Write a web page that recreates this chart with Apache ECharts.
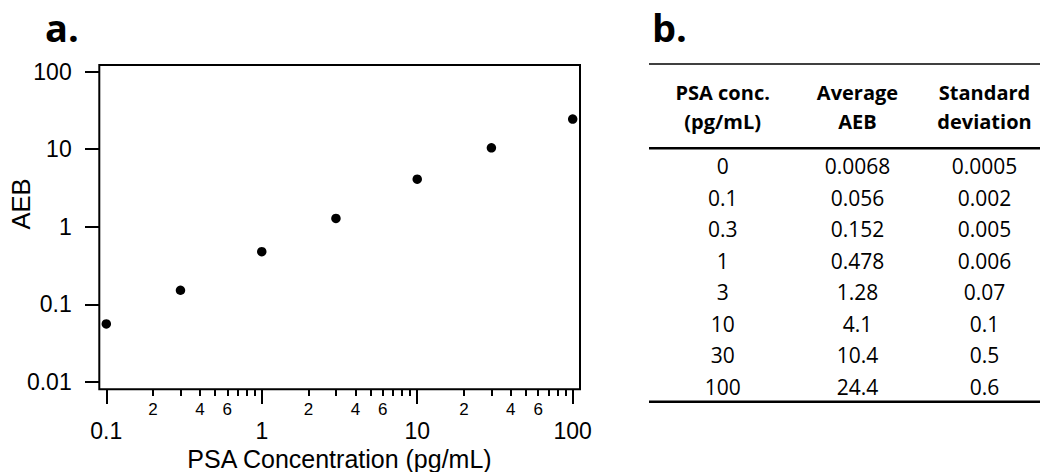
<!DOCTYPE html>
<html><head><meta charset="utf-8">
<script src="https://cdn.jsdelivr.net/npm/echarts@6/dist/echarts.min.js"></script>
<style>html,body{margin:0;padding:0;background:#fff}#c{width:1040px;height:472px}</style>
</head><body><div id="c"></div>
<script>
// ---- data ----
const concentrations = [0.1, 0.3, 1, 3, 10, 30, 100];
const averageAEB = [0.056, 0.152, 0.478, 1.28, 4.1, 10.4, 24.4];
const tableConc = ['0', '0.1', '0.3', '1', '3', '10', '30', '100'];
const tableAEB = ['0.0068', '0.056', '0.152', '0.478', '1.28', '4.1', '10.4', '24.4'];
const tableSD = ['0.0005', '0.002', '0.005', '0.006', '0.07', '0.1', '0.5', '0.6'];
const tableHeaders = [['PSA conc.', '(pg/mL)'], ['Average', 'AEB'], ['Standard', 'deviation']];
const xMinorTicks = [0.2, 0.3, 0.4, 0.5, 0.6, 0.7, 0.8, 0.9, 2, 3, 4, 5, 6, 7, 8, 9, 20, 30, 40, 50, 60, 70, 80, 90];
const xMinorLabels = [0.2, 0.4, 0.6, 2, 4, 6, 20, 40, 60];
const xTitle = 'PSA Concentration (pg/mL)';
const yTitle = 'AEB';

// ---- layout ----
const ARIAL = "'Liberation Sans', Arial, sans-serif";
const SANS = "'Open Sans', 'Noto Sans', sans-serif";
const colX = [722.7, 857.5, 984.5];
const headY = [92.7, 121.7];
const row0 = 166, rowStep = 31.5;

const graphics = [];
graphics.push({type: 'text', x: 45, y: 27, style: {text: 'a.', font: "bold 38px " + SANS, fill: '#000', align: 'left', verticalAlign: 'middle'}});
graphics.push({type: 'text', x: 652, y: 27, style: {text: 'b.', font: "bold 38px " + SANS, fill: '#000', align: 'left', verticalAlign: 'middle'}});
graphics.push({type: 'text', x: 21, y: 204, rotation: Math.PI / 2, style: {text: yTitle, font: "25.5px " + ARIAL, fill: '#000', align: 'center', verticalAlign: 'middle'}});
// table rules
[[64, 1.6], [148.3, 2.6], [401.7, 2.6]].forEach(([y, w]) => {
  graphics.push({type: 'line', shape: {x1: 649, y1: y, x2: 1040, y2: y}, style: {stroke: '#000', lineWidth: w}});
});
tableHeaders.forEach((h, ci) => {
  h.forEach((t, li) => {
    graphics.push({type: 'text', x: colX[ci], y: headY[li], style: {text: t, font: "bold 20px " + SANS, fill: '#000', align: 'center', verticalAlign: 'middle'}});
  });
});
[tableConc, tableAEB, tableSD].forEach((col, ci) => {
  col.forEach((t, ri) => {
    graphics.push({type: 'text', x: colX[ci], y: row0 + ri * rowStep, style: {text: t, font: "21px " + SANS, fill: '#000', align: 'center', verticalAlign: 'middle'}});
  });
});

const chart = echarts.init(document.getElementById('c'), null, {renderer: 'svg'});
const tickStyle = {color: '#000', width: 2};
chart.setOption({
  animation: false,
  backgroundColor: '#fff',
  grid: [
    {left: 106.3, top: 71.5, width: 466.4, height: 310.5, outerBoundsMode: 'none', containLabel: false},
    {left: 99.3, top: 65, width: 480.7, height: 324.3, show: true, borderColor: '#000', borderWidth: 2, backgroundColor: 'transparent', outerBoundsMode: 'none', containLabel: false}
  ],
  xAxis: [
    {gridIndex: 0, type: 'log', logBase: 10, min: 0.1, max: 100, position: 'bottom', offset: 8,
     axisLine: {show: false}, splitLine: {show: false},
     axisTick: {show: true, length: 14, lineStyle: tickStyle},
     axisLabel: {margin: 29, fontSize: 23, lineHeight: 23, fontFamily: ARIAL, color: '#000', formatter: v => String(v)},
     name: xTitle, nameLocation: 'middle', nameGap: 47,
     nameTextStyle: {fontSize: 25, lineHeight: 25, fontFamily: ARIAL, color: '#000'}},
    {gridIndex: 0, type: 'log', logBase: 10, min: 0.1, max: 100, position: 'bottom', offset: 8,
     axisLine: {show: false}, splitLine: {show: false},
     axisTick: {show: true, length: 6, lineStyle: tickStyle, customValues: xMinorTicks},
     axisLabel: {margin: 10.5, fontSize: 17, lineHeight: 17, fontFamily: ARIAL, color: '#000', customValues: xMinorLabels,
       formatter: v => String(Math.round(v / Math.pow(10, Math.floor(Math.log10(v) + 1e-9))))}},
    {gridIndex: 1, type: 'value', show: false}
  ],
  yAxis: [
    {gridIndex: 0, type: 'log', logBase: 10, min: 0.01, max: 100, offset: 7.3,
     axisLine: {show: false}, splitLine: {show: false},
     axisTick: {show: true, length: 14, lineStyle: tickStyle},
     axisLabel: {margin: 27.3, fontSize: 23, fontFamily: ARIAL, color: '#000', formatter: v => String(v)}},
    {gridIndex: 1, type: 'value', show: false}
  ],
  series: [{
    type: 'scatter', xAxisIndex: 0, yAxisIndex: 0,
    data: concentrations.map((c, i) => [c, averageAEB[i]]),
    symbol: 'circle', symbolSize: 9.5, itemStyle: {color: '#000', opacity: 1}, silent: true
  }],
  graphic: graphics
});
</script></body></html>
